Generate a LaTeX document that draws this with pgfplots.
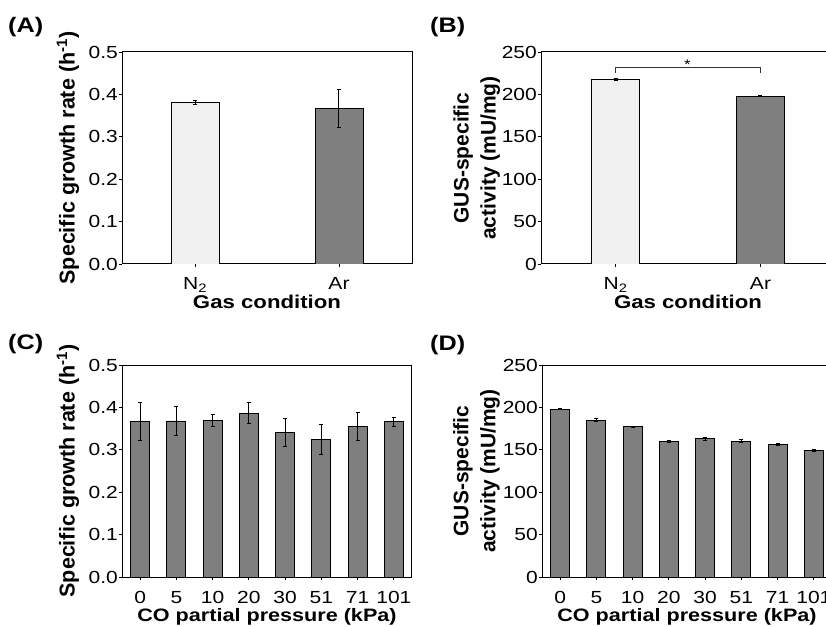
\documentclass[border=0pt]{standalone}
\usepackage{fontspec}
\setmainfont{Liberation Sans}[FakeStretch=1.2]
\newfontfamily\ylabfont{Liberation Sans}
\usepackage{pgfplots}
\pgfplotsset{compat=1.18}

\definecolor{lightbar}{HTML}{F0F0F0}
\definecolor{darkbar}{HTML}{7F7F7F}

\pgfplotsset{
  panel/.style={
    scale only axis, height=212bp, ymin=0,
    axis line style={line width=1bp, black},
    tick style={line width=0.8bp, black},
    major tick length=3bp, tick align=outside,
    xtick pos=left, ytick pos=left,
    /pgf/number format/assume math mode=true,
    tick label style={font=\fontsize{17.5bp}{20bp}\selectfont},
    xticklabel style={anchor=base, yshift=-23bp},
    yticklabel style={anchor=east, inner xsep=1bp},
    xlabel style={at={(axis description cs:0.5,0)}, anchor=base, yshift=-44.5bp,
      font=\bfseries\fontsize{18.5bp}{20bp}\selectfont},
    ylabel style={anchor=center, align=center,
      font=\ylabfont\bfseries\fontsize{21.5bp}{27bp}\selectfont},
  },
  bars/.style={ybar, bar shift=0pt, draw=black, line width=0.8bp,
    error bars/y dir=both, error bars/y explicit,
    error bars/error bar style={line width=1bp, black},
    error bars/error mark options={rotate=90, mark size=2bp, line width=1bp, black}},
  rate ticks/.style={ymax=0.5, ytick={0,0.1,...,0.5},
    yticklabel style={/pgf/number format/fixed, /pgf/number format/fixed zerofill,
      /pgf/number format/precision=1}},
  gus ticks/.style={ymax=250, ytick={0,50,...,250},
    ylabel style={font=\ylabfont\bfseries\fontsize{21bp}{27bp}\selectfont}},
  co axis/.style={xmin=-0.5, xmax=7.5, width=290bp,
    xtick={0,...,7}, xticklabels={0,5,10,20,30,51,71,101},
    xlabel={CO partial pressure (kPa)},
    xlabel style={font=\bfseries\fontsize{18bp}{20bp}\selectfont}},
}

\begin{document}
\begin{tikzpicture}
\useasboundingbox (0,0) rectangle (826bp,627bp);
\clip (0,0) rectangle (826bp,627bp);

% (A) growth rate, gas condition
\begin{axis}[panel, rate ticks, at={(122bp,363bp)}, anchor=south west,
  width=290bp, xmin=-0.507, xmax=1.507,
  xtick={0,1}, xticklabels={N\textsubscript{2}, Ar},
  xlabel={Gas condition},
  ylabel={Specific growth rate (h\textsuperscript{-1})},
  ylabel style={at={(axis description cs:-0.186,0.5)}}]
\addplot[bars, bar width=48bp, fill=lightbar] coordinates {(0,0.380) +- (0,0.005)};
\addplot[bars, bar width=48bp, fill=darkbar] coordinates {(1,0.367) +- (0,0.044)};
\end{axis}

% (B) GUS activity, gas condition
\begin{axis}[panel, gus ticks, at={(541bp,363bp)}, anchor=south west,
  width=294bp, xmin=-0.514, xmax=1.514,
  xtick={0,1}, xticklabels={N\textsubscript{2}, Ar},
  xlabel={Gas condition},
  ylabel={GUS-specific\\activity (mU/mg)},
  ylabel style={at={(axis description cs:-0.219,0.5)}}]
\addplot[bars, bar width=48bp, fill=lightbar] coordinates {(0,217.8) +- (0,1.0)};
\addplot[bars, bar width=48bp, fill=darkbar] coordinates {(1,198.1) +- (0,1.0)};
\draw[line width=0.9bp, black!80] (axis cs:0,225.6) -- (axis cs:0,232) -- (axis cs:1,232) -- (axis cs:1,225.6);
\node[anchor=base, font=\fontsize{14bp}{14bp}\selectfont] at (axis cs:0.495,229.5) {*};
\end{axis}

% (C) growth rate, CO partial pressure
\begin{axis}[panel, rate ticks, co axis, at={(122bp,50bp)}, anchor=south west,
  ylabel={Specific growth rate (h\textsuperscript{-1})},
  ylabel style={at={(axis description cs:-0.186,0.5)}}]
\addplot[bars, bar width=19bp, fill=darkbar] coordinates {
  (0,0.367) +- (0,0.044)
  (1,0.368) +- (0,0.034)
  (2,0.369) +- (0,0.014)
  (3,0.386) +- (0,0.025)
  (4,0.341) +- (0,0.034)
  (5,0.324) +- (0,0.035)
  (6,0.355) +- (0,0.034)
  (7,0.366) +- (0,0.011)
};
\end{axis}

% (D) GUS activity, CO partial pressure
\begin{axis}[panel, gus ticks, co axis, at={(542bp,50bp)}, anchor=south west,
  ylabel={GUS-specific\\activity (mU/mg)},
  ylabel style={at={(axis description cs:-0.226,0.5)}}]
\addplot[bars, bar width=19bp, fill=darkbar] coordinates {
  (0,198.1) +- (0,1.0)
  (1,185.1) +- (0,1.5)
  (2,177.2) +- (0,0.5)
  (3,159.8) +- (0,1.0)
  (4,163.0) +- (0,2.0)
  (5,160.3) +- (0,2.0)
  (6,155.9) +- (0,1.0)
  (7,149.2) +- (0,1.0)
};
\end{axis}

\begin{scope}[font=\bfseries\fontsize{21bp}{21bp}\selectfont]
\node[anchor=base west, inner sep=0] at (8bp,594bp) {(A)};
\node[anchor=base west, inner sep=0] at (430bp,594bp) {(B)};
\node[anchor=base west, inner sep=0] at (8bp,277.5bp) {(C)};
\node[anchor=base west, inner sep=0] at (430bp,276.5bp) {(D)};
\end{scope}
\end{tikzpicture}
\end{document}
